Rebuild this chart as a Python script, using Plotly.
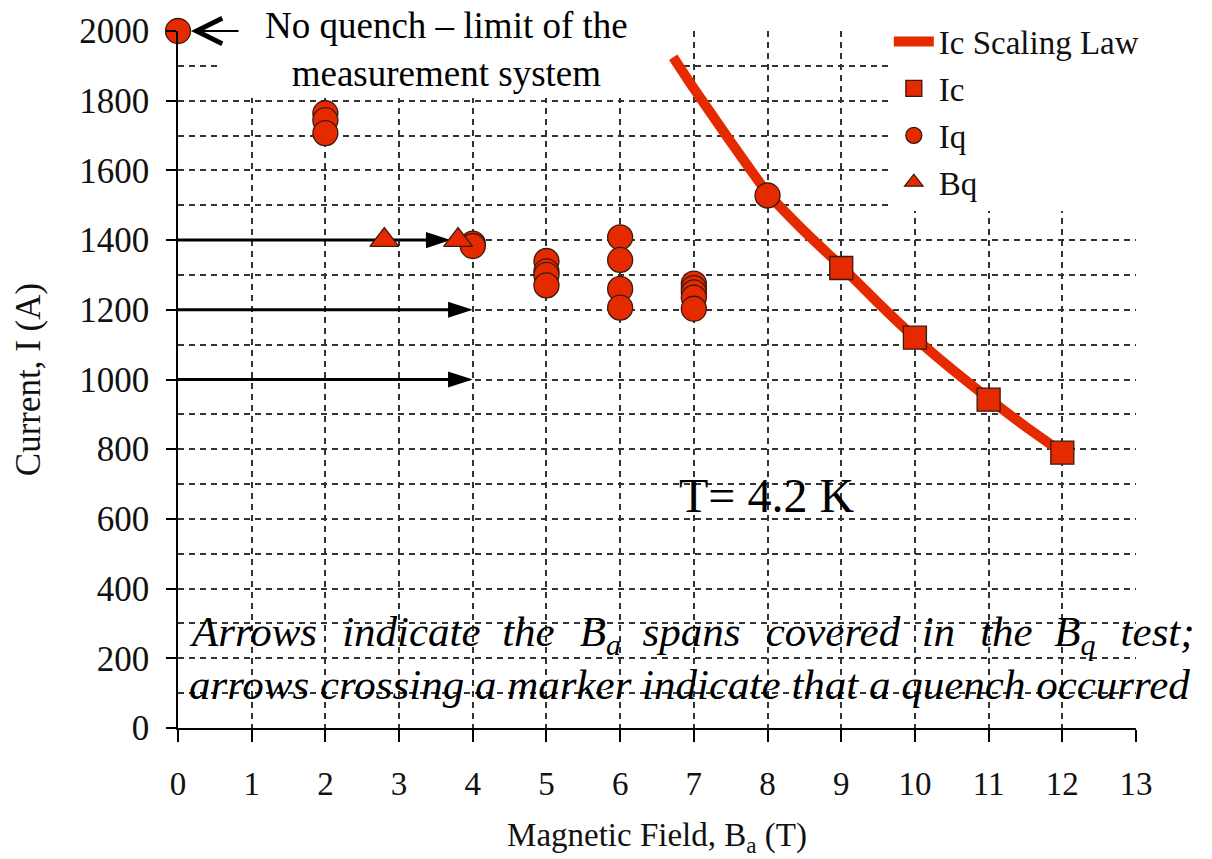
import plotly.graph_objects as go

# ---- data ----
law_x = [6.72, 7.0, 7.5, 8.0, 8.5, 9.0, 9.5, 10.0, 10.5, 11.0, 11.5, 12.0]
law_y = [1925, 1835, 1682, 1535, 1425, 1325, 1220, 1120, 1030, 945, 865, 790]

ic_x = [9, 10, 11, 12]
ic_y = [1320, 1120, 942, 790]

iq_x = [0, 2, 2, 2, 4, 4, 5, 5, 5, 5, 6, 6, 6, 6, 7, 7, 7, 7, 7, 8]
iq_y = [2000, 1764, 1744, 1707, 1390, 1383, 1340, 1310, 1300, 1270,
        1408, 1343, 1260, 1206, 1275, 1262, 1250, 1235, 1203, 1528]

bq_x = [2.8, 3.8]
bq_y = [1400, 1400]

span_level = [1400, 1200, 1000]
span_start = [0, 0, 0]
span_end = [3.7, 4.0, 4.0]

x_ticks = list(range(0, 14))
y_ticks = list(range(0, 2001, 200))

RED = "#E62A00"
EDGE = "#3a1a10"
FONT = "Liberation Serif"

fig = go.Figure()

# arrows showing Ba spans of the Bq test
for lv, x0, x1 in zip(span_level, span_start, span_end):
    fig.add_trace(go.Scatter(
        x=[x0, x1], y=[lv, lv], mode="lines+markers",
        line=dict(color="black", width=3),
        marker=dict(symbol="arrow", size=26, color="black", angleref="previous",
                    line=dict(width=0)),
        showlegend=False, hoverinfo="skip", cliponaxis=False))

fig.add_trace(go.Scatter(
    x=law_x, y=law_y, mode="lines", name="Ic Scaling Law", legendgroup="a",
    line=dict(color=RED, width=10, shape="spline", smoothing=0.5)))

fig.add_trace(go.Scatter(
    x=ic_x, y=ic_y, mode="markers", name="Ic", legendgroup="b",
    marker=dict(symbol="square", size=23, color=RED, line=dict(color=EDGE, width=1.3)),
    cliponaxis=False))

fig.add_trace(go.Scatter(
    x=iq_x, y=iq_y, mode="markers", name="Iq", legendgroup="c",
    marker=dict(symbol="circle", size=25, color=RED, line=dict(color=EDGE, width=1.3)),
    cliponaxis=False))

fig.add_trace(go.Scatter(
    x=bq_x, y=bq_y, mode="markers", name="Bq", legendgroup="d",
    marker=dict(symbol="triangle-up", size=25, color=RED, line=dict(color=EDGE, width=1.3)),
    cliponaxis=False))

# white box behind the top-left note (covers gridlines, below traces)
fig.add_shape(type="rect", xref="x", yref="y", x0=0.54, x1=6.8, y0=1808, y1=2000,
              fillcolor="white", line=dict(width=0), layer="between")

fig.add_annotation(x=3.65, y=1948, xref="x", yref="y",
                   text="No quench – limit of the<br>measurement system",
                   showarrow=False, font=dict(family=FONT, size=37, color="black"))

fig.add_annotation(x=0, y=2000, xref="x", yref="y", ax=62, ay=0, text="",
                   showarrow=True, arrowhead=5, arrowsize=2.8, arrowwidth=1.8,
                   arrowcolor="black", standoff=13)

fig.add_annotation(x=7.98, y=666, xref="x", yref="y", text="T= 4.2 K",
                   showarrow=False, font=dict(family=FONT, size=48, color="black"))

g1 = " \u2004"
g2 = " \u2005"
words = ["Arrows", "indicate", "the", "B<sub>a</sub>", "spans", "covered",
         "in", "the", "B<sub>q</sub>", "test;"]
gaps = [g1, g2, g1, g2, g1, g2, g1, g2, g1]
line1 = words[0] + "".join(g + w for g, w in zip(gaps, words[1:]))
fig.add_annotation(x=0.12, y=267, xref="x", yref="y", xanchor="left", yanchor="middle",
                   text="<i>" + line1 + "</i>", showarrow=False,
                   font=dict(family=FONT, size=43, color="black"))
fig.add_annotation(x=0.12, y=126, xref="x", yref="y", xanchor="left", yanchor="middle",
                   text="<i>arrows crossing a marker indicate that a quench occurred</i>",
                   showarrow=False, font=dict(family=FONT, size=43, color="black"))

grid_style = dict(gridcolor="#333333", gridwidth=1.5, griddash="6px,5px")

fig.update_layout(
    width=1212, height=859,
    margin=dict(l=178, r=76, t=28, b=128),
    paper_bgcolor="white", plot_bgcolor="white",
    font=dict(family=FONT, color="#111111"),
    showlegend=True,
    legend=dict(x=0.742, y=1.025, xanchor="left", yanchor="top",
                bgcolor="white", borderwidth=0, tracegroupgap=1,
                font=dict(family=FONT, size=33, color="#111111"),
                itemwidth=40),
    xaxis=dict(range=[0, 13], tickvals=x_ticks, showgrid=True, **grid_style,
               showline=True, linecolor="black", linewidth=1.5,
               ticks="outside", ticklen=12, tickwidth=1.5, tickcolor="black",
               tickfont=dict(family=FONT, size=33, color="#111111"),
               ticklabelstandoff=14,
               zeroline=False,
               title=dict(text="Magnetic Field, B<sub>a</sub> (T)",
                          font=dict(family=FONT, size=33, color="#111111"), standoff=22)),
    yaxis=dict(range=[0, 2000], tickvals=y_ticks, showgrid=True, **grid_style,
               minor=dict(dtick=100, tick0=0, showgrid=True, ticks="",
                          gridcolor="#333333", gridwidth=1.5, griddash="6px,5px"),
               showline=True, linecolor="black", linewidth=1.5,
               ticks="outside", ticklen=10, tickwidth=1.5, tickcolor="black",
               tickfont=dict(family=FONT, size=35, color="#111111"),
               ticklabelstandoff=10,
               zeroline=False,
               title=dict(text="Current, I (A)",
                          font=dict(family=FONT, size=35, color="#111111"), standoff=28)),
)

fig.write_html("out.html")
